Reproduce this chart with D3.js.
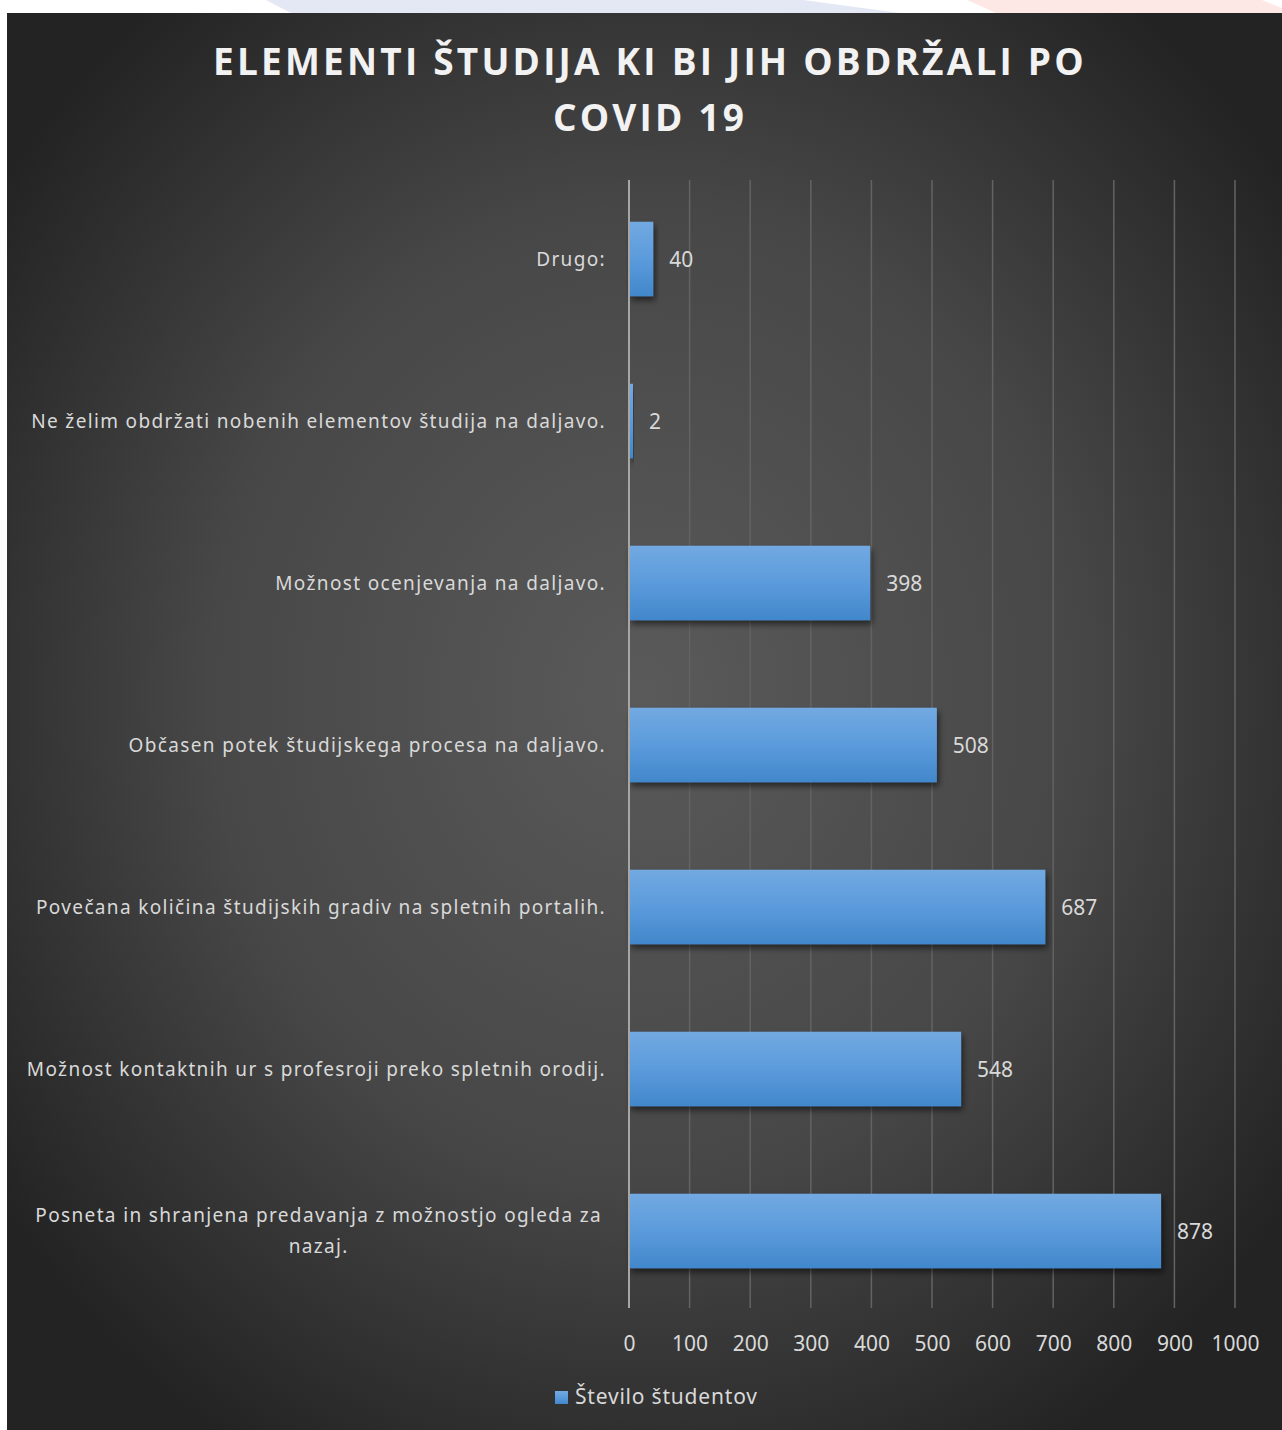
<!DOCTYPE html>
<html>
<head>
<meta charset="utf-8">
<script src="https://cdn.jsdelivr.net/npm/d3@7"></script>
<style>
    body {margin: 0; background: #ffffff;}
    svg {display: block;}
</style>
</head>
<body>
<svg id="chart" width="1282" height="1430"></svg>
<script>
const titleLines = ["ELEMENTI ŠTUDIJA KI BI JIH OBDRŽALI PO", "COVID 19"]
const categories = [
    "Drugo:",
    "Ne želim obdržati nobenih elementov študija na daljavo.",
    "Možnost ocenjevanja na daljavo.",
    "Občasen potek študijskega procesa na daljavo.",
    "Povečana količina študijskih gradiv na spletnih portalih.",
    "Možnost kontaktnih ur s profesroji preko spletnih orodij.",
    "Posneta in shranjena predavanja z možnostjo ogleda za nazaj."
]
const values = [40, 2, 398, 508, 687, 548, 878]
const xTicks = [0, 100, 200, 300, 400, 500, 600, 700, 800, 900, 1000]
const seriesName = "Število študentov"

const svg = d3.select("#chart")
const defs = svg.append("defs")

// background gradient
const bg = defs.append("radialGradient").attr("id", "bg")
    .attr("cx", "50%").attr("cy", "48%").attr("r", "62%")
bg.append("stop").attr("offset", "0%").attr("stop-color", "#5a5a5a")
bg.append("stop").attr("offset", "55%").attr("stop-color", "#474747")
bg.append("stop").attr("offset", "100%").attr("stop-color", "#232323")

const barGrad = defs.append("linearGradient").attr("id", "bar")
    .attr("x1", 0).attr("y1", 0).attr("x2", 0).attr("y2", 1)
barGrad.append("stop").attr("offset", "0%").attr("stop-color", "#72a9e1")
barGrad.append("stop").attr("offset", "50%").attr("stop-color", "#5b9bdc")
barGrad.append("stop").attr("offset", "100%").attr("stop-color", "#4287cb")

defs.append("filter").attr("id", "shadow")
    .attr("x", "-10%").attr("y", "-10%").attr("width", "130%").attr("height", "140%")
    .append("feDropShadow")
    .attr("dx", 2).attr("dy", 4).attr("stdDeviation", 3)
    .attr("flood-color", "#000").attr("flood-opacity", 0.55)

// decorative strip at the top
svg.append("polygon")
    .attr("points", "266,0 803,0 900,13 291,13")
    .attr("fill", "#e4e7f4")
svg.append("polygon")
    .attr("points", "967,0 1262,0 1282,8 1282,13 996,13")
    .attr("fill", "#fde8e6")

svg.append("rect")
    .attr("x", 7).attr("y", 13)
    .attr("width", 1275).attr("height", 1417)
    .attr("fill", "url(#bg)")

// title
svg.append("g").selectAll("text")
    .data(titleLines)
    .enter()
    .append("text")
    .attr("x", 650)
    .attr("y", (d, i) => 75 + i * 56)
    .attr("text-anchor", "middle")
    .style("font-family", "'Open Sans', sans-serif")
    .style("font-weight", "bold")
    .style("font-size", "37px")
    .style("letter-spacing", "3.2px")
    .style("fill", "#f2f2f2")
    .text(d => d)

const x = d3.scaleLinear()
    .domain([0, 1000])
    .range([629, 1235])

const y = d3.scaleBand()
    .domain(categories)
    .range([178, 1312])
    .paddingInner(0.54)
    .paddingOuter(0.27)

// gridlines
svg.append("g").selectAll("line")
    .data(xTicks.slice(1))
    .enter()
    .append("line")
    .attr("x1", d => x(d)).attr("x2", d => x(d))
    .attr("y1", 180).attr("y2", 1308)
    .attr("stroke", "#636363")
    .attr("stroke-width", 1.5)

// x axis labels
const xAxis = svg.append("g")
    .attr("transform", "translate(0,1308)")
    .call(d3.axisBottom(x).tickValues(xTicks).tickFormat(d3.format("d")).tickSize(0).tickPadding(28))
xAxis.select(".domain").remove()
xAxis.selectAll("text")
    .style("font-family", "'Noto Sans', sans-serif")
    .style("font-size", "21px")
    .style("fill", "#d9d9d9")

// bars
svg.append("g").selectAll("rect")
    .data(values)
    .enter()
    .append("rect")
    .attr("x", x(0))
    .attr("y", (d, i) => y(categories[i]))
    .attr("width", d => Math.max(x(d) - x(0), 4))
    .attr("height", y.bandwidth())
    .attr("fill", "url(#bar)")
    .attr("filter", "url(#shadow)")

// vertical axis line
svg.append("line")
    .attr("x1", x(0)).attr("x2", x(0))
    .attr("y1", 180).attr("y2", 1308)
    .attr("stroke", "#a6a6a6")
    .attr("stroke-width", 2)

// value labels
svg.append("g").selectAll("text")
    .data(values)
    .enter()
    .append("text")
    .attr("x", d => Math.max(x(d), x(0) + 4) + 16)
    .attr("y", (d, i) => y(categories[i]) + y.bandwidth() / 2 + 1)
    .attr("dy", "0.35em")
    .style("font-family", "'Noto Sans', sans-serif")
    .style("font-size", "21px")
    .style("fill", "#d9d9d9")
    .text(d => d)

// category labels, wrapped when too long
const labelRight = 606
const maxWidth = 580
const labels = svg.append("g")
    .style("font-family", "'Noto Sans', sans-serif")
    .style("font-size", "19px")
    .style("letter-spacing", "1.35px")
    .style("fill", "#d9d9d9")

categories.forEach(cat => {
    const cy = y(cat) + y.bandwidth() / 2
    const t = labels.append("text").text(cat)
    if (t.node().getComputedTextLength() <= maxWidth) {
        t.attr("x", labelRight).attr("y", cy).attr("dy", "0.35em").attr("text-anchor", "end")
        return
    }
    t.remove()
    const words = cat.split(" ")
    const lines = []
    let line = []
    const probe = labels.append("text")
    words.forEach(w => {
        probe.text(line.concat(w).join(" "))
        if (probe.node().getComputedTextLength() > maxWidth && line.length) {
            lines.push(line.join(" "))
            line = [w]
        } else {
            line.push(w)
        }
    })
    lines.push(line.join(" "))
    const blockWidth = d3.max(lines, l => {
        probe.text(l)
        return probe.node().getComputedTextLength()
    })
    probe.remove()
    const lineH = 31
    lines.forEach((l, i) => {
        labels.append("text")
            .attr("x", labelRight - 4 - blockWidth / 2)
            .attr("y", cy + (i - (lines.length - 1) / 2) * lineH)
            .attr("dy", "0.35em")
            .attr("text-anchor", "middle")
            .text(l)
    })
})

// legend
const legend = svg.append("g").attr("transform", "translate(555,1397)")
legend.append("rect")
    .attr("x", 0).attr("y", -6)
    .attr("width", 13).attr("height", 13)
    .attr("fill", "url(#bar)")
legend.append("text")
    .attr("x", 20).attr("y", 0)
    .attr("dy", "0.35em")
    .style("font-family", "'Noto Sans', sans-serif")
    .style("font-size", "21px")
    .style("letter-spacing", "0.8px")
    .style("fill", "#d9d9d9")
    .text(seriesName)
</script>
</body>
</html>
